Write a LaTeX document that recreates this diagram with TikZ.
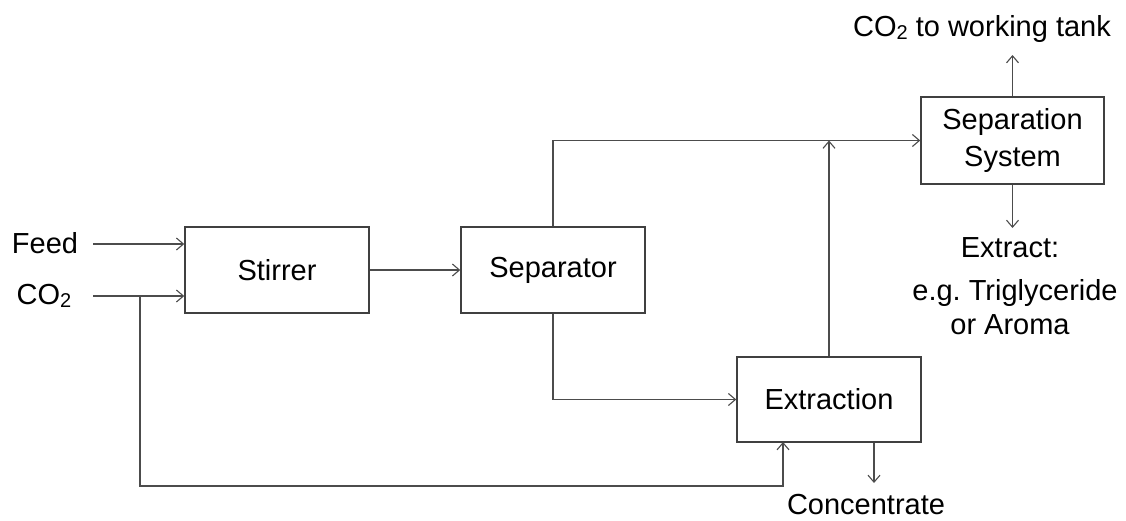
\documentclass[tikz,border=0pt]{standalone}
\usepackage{fontspec}
\setmainfont{Liberation Sans}
\usetikzlibrary{arrows.meta}
\newcommand\bigfont{\fontsize{29}{37}\selectfont}
\newcommand\subtwo{\raisebox{-0.12em}{\fontsize{20}{20}\selectfont 2}}
\tikzset{
  box/.style={draw=black!75, line width=1.5pt, minimum width=184pt, minimum height=86pt, align=center, font=\bigfont, inner sep=0pt},
  conn/.style={draw=black!70, line width=1.2pt, -{Straight Barb[length=7pt,width=12pt,line width=1.1pt]}},
  lbl/.style={font=\bigfont, inner sep=0pt, anchor=base}
}
\begin{document}
\begin{tikzpicture}[x=1pt,y=-1pt]
\useasboundingbox[fill=white] (0,0) rectangle (1126,520);
% boxes
\node[box] (stir) at (277,270) {Stirrer};
\node[box] (sep) at (553,270) {Separator};
\node[box, minimum height=85pt] (ext) at (829,399.5) {Extraction};
\node[box, minimum width=183pt, minimum height=87pt] (ss) at (1012.5,140.5) {Separation\\System};
% labels
\node[lbl] (feed) at (45,253) {Feed};
\node[lbl] (co2) at (44,304) {CO\subtwo};
\node[lbl] (tank) at (982,36) {CO\subtwo{} to working tank};
\node[lbl] (extr) at (1010,257) {Extract:};
\node[lbl] (eg) at (1015,300) {e.g.\ Triglyceride};
\node[lbl] (aroma) at (1010,334) {or Aroma};
\node[lbl] (conc) at (866,514) {Concentrate};
% free ends
\coordinate (f0) at (93,244);
\coordinate (c0) at (93,296);
\coordinate (cj) at (140,296);
\coordinate (lb) at (140,486);
\coordinate (le) at (783,442);
\coordinate (eb) at (874,483);
\coordinate (tk) at (1012.5,55);
\coordinate (ex) at (1012.5,228);
% connectors
\draw[conn] (f0) -- (stir.west |- f0);
\draw[conn] (c0) -- (stir.west |- c0);
\draw[conn] (cj) -- (lb) -| (le);
\draw[conn] (stir.east) -- (sep.west);
\draw[conn] (sep.north) |- (ss.west);
\draw[conn] (sep.south) |- (ext.west);
\draw[conn] (ext.north) -- (ext.north |- ss.west);
\draw[conn] (ext.south -| eb) -- (eb);
\draw[conn] (ss.north) -- (tk);
\draw[conn] (ss.south) -- (ex);
\end{tikzpicture}
\end{document}
